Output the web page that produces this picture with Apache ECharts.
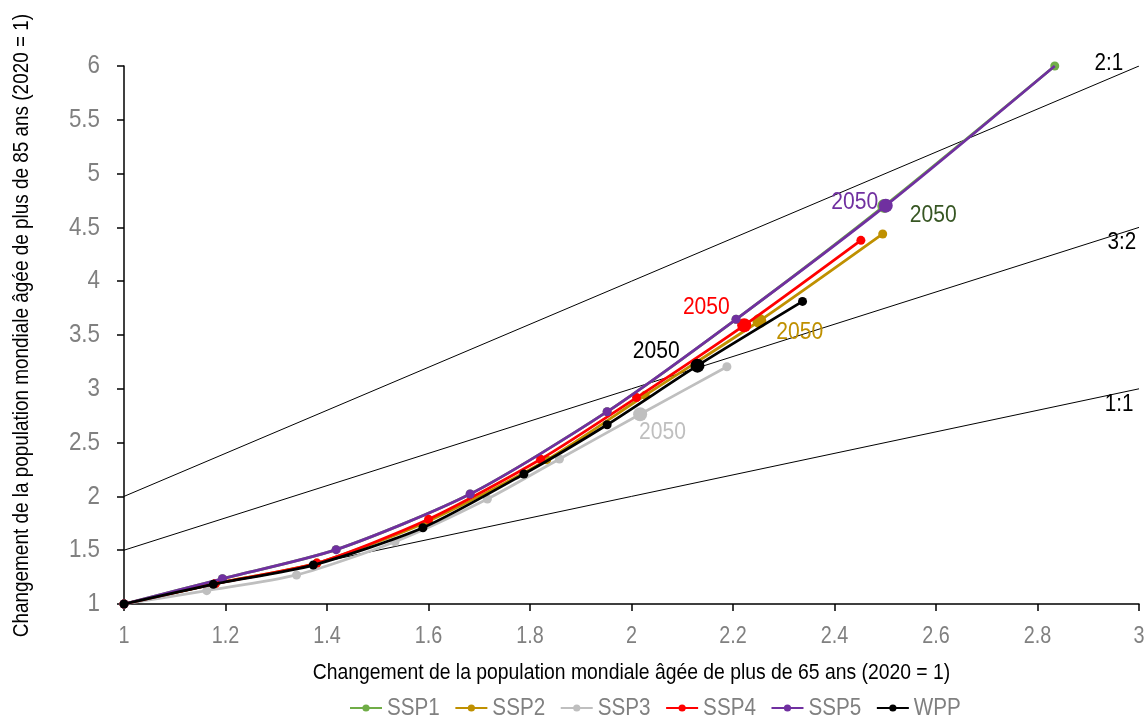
<!DOCTYPE html>
<html>
<head>
<meta charset="utf-8">
<script src="https://cdn.jsdelivr.net/npm/echarts@6/dist/echarts.min.js"></script>
<style>
  html, body { margin: 0; padding: 0; background: #fff; }
  #chart { width: 1145px; height: 717px; }
</style>
</head>
<body>
<div id="chart"></div>
<script>
// Growth of the 65+ (x) and 85+ (y) world population, 2020 = 1, 2020-2050 by 5 years, then end of horizon
const ssp1X = [1, 1.194, 1.418, 1.682, 1.952, 2.206, 2.498, 2.834];
const ssp1Y = [1, 1.235, 1.505, 2.022, 2.787, 3.646, 4.700, 6.0];
const ssp2X = [1, 1.18, 1.38, 1.60, 1.833, 2.027, 2.252, 2.495];
const ssp2Y = [1, 1.19, 1.38, 1.77, 2.34, 2.94, 3.630, 4.439];
const ssp3X = [1, 1.163, 1.340, 1.534, 1.716, 1.858, 2.017, 2.188];
const ssp3Y = [1, 1.124, 1.270, 1.579, 1.976, 2.348, 2.763, 3.205];
const ssp4X = [1, 1.18, 1.38, 1.600, 1.821, 2.010, 2.222, 2.452];
const ssp4Y = [1, 1.19, 1.38, 1.787, 2.345, 2.918, 3.590, 4.380];
const ssp5X = [1, 1.194, 1.418, 1.682, 1.952, 2.206, 2.501, 2.834];
const ssp5Y = [1, 1.235, 1.505, 2.022, 2.787, 3.646, 4.702, 6.0];
const wppX  = [1, 1.176, 1.373, 1.589, 1.788, 1.952, 2.130, 2.337];
const wppY  = [1, 1.183, 1.362, 1.709, 2.208, 2.666, 3.215, 3.812];

const seriesNames = ['SSP1', 'SSP2', 'SSP3', 'SSP4', 'SSP5', 'WPP'];
const seriesColors = ['#70AD47', '#BF9000', '#BFBFBF', '#FF0000', '#7030A0', '#000000'];
const labelColors = ['#375623', '#BF9000', '#BFBFBF', '#FF0000', '#7030A0', '#000000'];
const year2050Index = 6;
const year2050Text = '2050';

// Ratio lines 2:1, 3:2, 1:1 over x in [1, 3]
const ratioNames = ['2:1', '3:2', '1:1'];
const ratioSlopes = [2, 1.5, 1];
const ratioX = [1, 3];

const FONT = '"Liberation Sans", Arial, sans-serif';
// Horizontal squeeze giving the narrow lettering
const NARROW = 0.86;

// Placement of the "2050" tags relative to each 2050 point
const tagOffsets = [[57, 9], [47, 11], [26, 18], [-44, -18], [-36, -3], [-48, -14]];
const ratioLabelOffsets = [[-35, -3], [-20, 15], [-23, 16]];

const xs = [ssp1X, ssp2X, ssp3X, ssp4X, ssp5X, wppX];
const ys = [ssp1Y, ssp2Y, ssp3Y, ssp4Y, ssp5Y, wppY];

const series = [];

ratioSlopes.forEach((k, i) => {
  series.push({
    type: 'line',
    name: ratioNames[i],
    silent: true,
    z: 1,
    symbol: 'circle',
    symbolSize: 0,
    showAllSymbol: true,
    lineStyle: { color: '#000', width: 1 },
    itemStyle: { color: '#000' },
    data: ratioX.map((x, j) => {
      const d = { value: [x, k * x] };
      if (j === ratioX.length - 1) {
        d.label = {
          show: true,
          formatter: ratioNames[i],
          position: 'inside',
          offset: ratioLabelOffsets[i],
          color: '#000',
          fontSize: 24,
          fontFamily: FONT
        };
      }
      return d;
    })
  });
});

seriesNames.forEach((name, s) => {
  const data = xs[s].map((x, i) => {
    const d = { value: [x, ys[s][i]] };
    if (i === year2050Index) {
      d.symbolSize = 14;
      d.label = {
        show: true,
        formatter: year2050Text,
        position: 'inside',
        offset: tagOffsets[s],
        color: labelColors[s],
        fontSize: 24.5,
        fontFamily: FONT
      };
    }
    if (name === 'SSP5' && i === xs[s].length - 1) {
      d.symbolSize = 0;
    }
    return d;
  });
  series.push({
    type: 'line',
    name: name,
    z: 2 + s,
    smooth: 0.25,
    symbol: 'circle',
    symbolSize: 9,
    showAllSymbol: true,
    color: seriesColors[s],
    lineStyle: { color: seriesColors[s], width: 2.75 },
    itemStyle: { color: seriesColors[s] },
    emphasis: { disabled: true },
    data: data
  });
});

const chart = echarts.init(document.getElementById('chart'), null, { renderer: 'canvas' });
chart.setOption({
  animation: false,
  backgroundColor: '#fff',
  grid: { left: 124, right: 6, top: 66, bottom: 113, containLabel: false, outerBoundsMode: 'none' },
  legend: {
    data: seriesNames,
    bottom: -8,
    left: 344,
    itemWidth: 32,
    itemHeight: 9,
    itemGap: 6,
    textStyle: { color: '#808080', fontSize: 24, fontFamily: FONT }
  },
  xAxis: {
    type: 'value',
    min: 1,
    max: 3,
    interval: 0.2,
    name: 'Changement de la population mondiale âgée de plus de 65 ans (2020 = 1)',
    nameLocation: 'middle',
    nameGap: 57,
    nameTextStyle: { color: '#000', fontSize: 22.5, fontFamily: FONT },
    axisLine: { lineStyle: { color: '#000', width: 1.5 } },
    axisTick: { show: true, inside: false, length: 7, lineStyle: { color: '#000', width: 1.5 } },
    axisLabel: { color: '#808080', fontSize: 23, fontFamily: FONT, margin: 21, formatter: v => String(+v.toFixed(1)) },
    splitLine: { show: false }
  },
  yAxis: {
    type: 'value',
    min: 1,
    max: 6,
    interval: 0.5,
    name: 'Changement de la population mondiale âgée de plus de 85 ans (2020 = 1)',
    nameLocation: 'middle',
    nameRotate: 90,
    nameGap: 91,
    nameTextStyle: { color: '#000', fontSize: 22, fontFamily: FONT, padding: [0, 0, 0, 22] },
    axisLine: { show: true, lineStyle: { color: '#000', width: 1.5 } },
    axisTick: { show: true, inside: false, length: 7, lineStyle: { color: '#000', width: 1.5 } },
    axisLabel: { color: '#808080', fontSize: 26, fontFamily: FONT, margin: 24, formatter: v => String(+v.toFixed(1)) },
    splitLine: { show: false }
  },
  series: series
});

// Squeeze every text element horizontally around its own anchor
function narrowTexts(factor) {
  const zr = chart.getZr();
  const texts = new Set();
  zr.storage.getDisplayList(true, true).forEach(el => {
    if (el.parent && el.parent.type === 'text') texts.add(el.parent);
    else if (el.type === 'text') texts.add(el);
  });
  texts.forEach(t => {
    const sx = (t.style && t.style.x) || 0;
    const sy = (t.style && t.style.y) || 0;
    t.originX = sx;
    t.originY = sy;
    t.scaleX = factor;
    if (t.innerTransformable) {
      t.innerTransformable.scaleX = factor;
    }
    t.markRedraw();
    if (t.__hostTarget) t.__hostTarget.markRedraw();
  });
  zr.refreshImmediately();
}
narrowTexts(NARROW);
</script>
</body>
</html>
